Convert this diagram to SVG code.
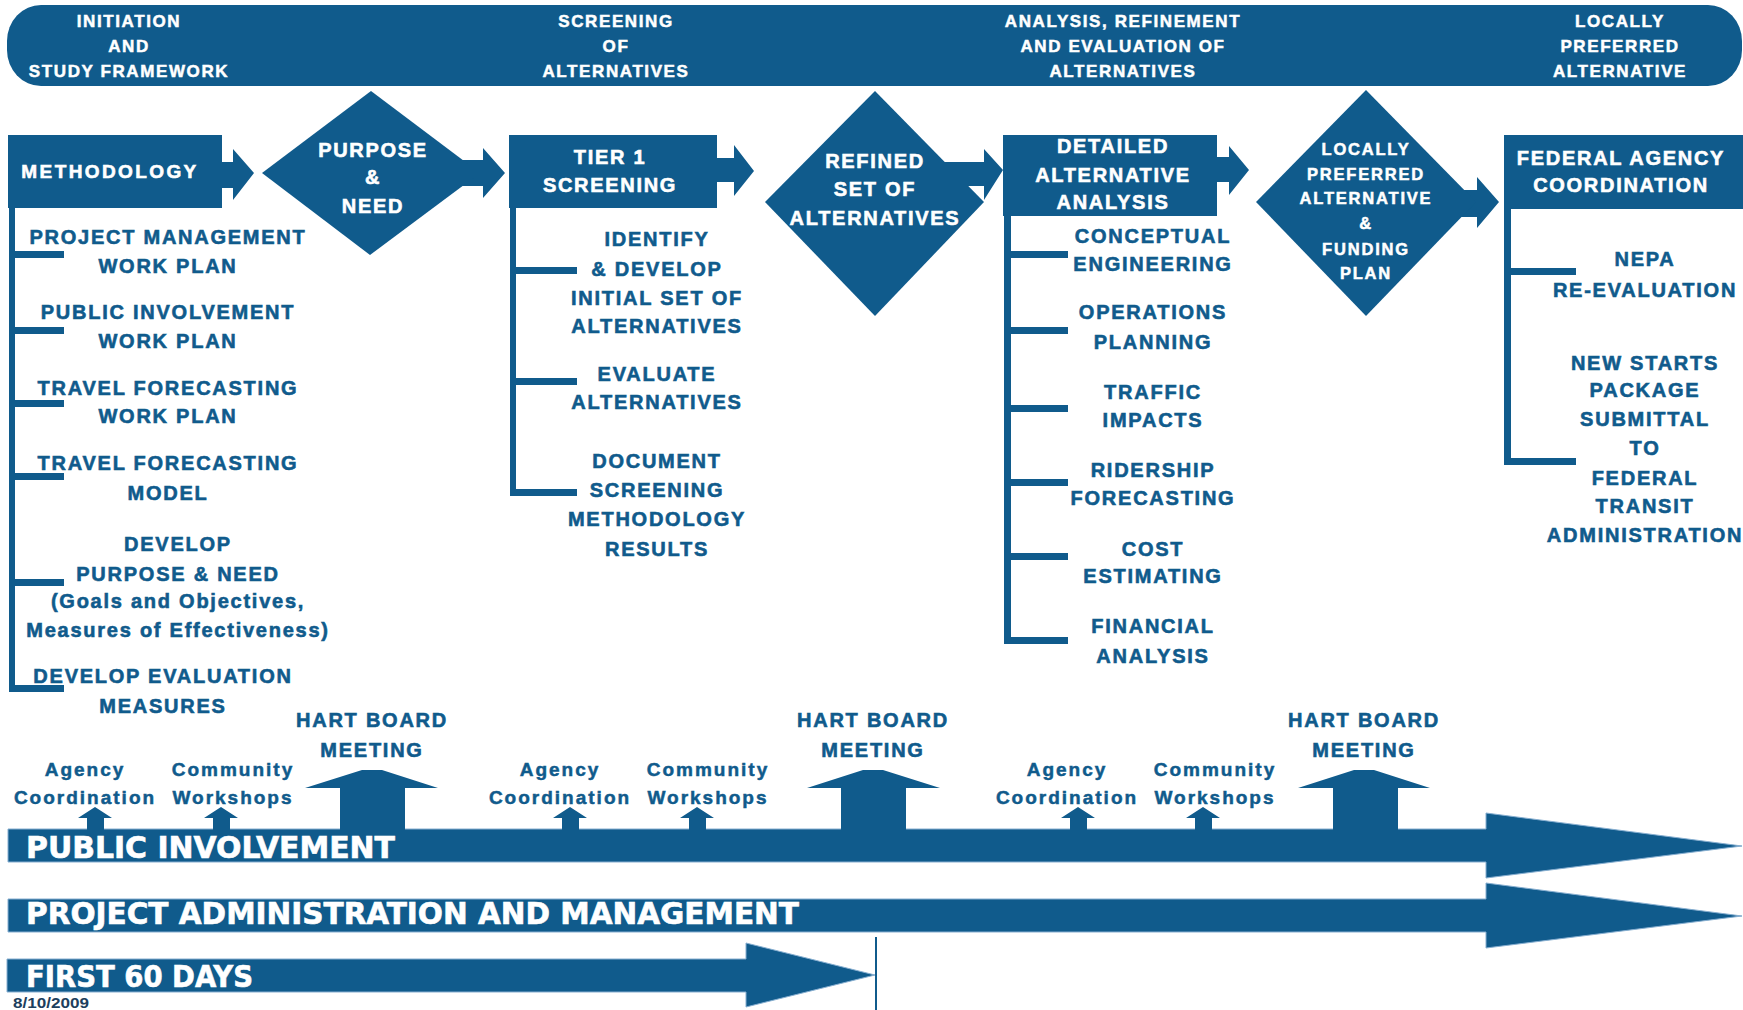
<svg xmlns="http://www.w3.org/2000/svg" width="1743" height="1010" viewBox="0 0 1743 1010">
<style>
 .f{fill:#105b8c}
 text{font-family:"Liberation Sans",Arial,sans-serif;font-weight:bold;text-anchor:middle}
 .hd{fill:#fff;stroke:#fff;stroke-width:0.5px;font-size:17px;letter-spacing:1.6px}
 .w{fill:#fff;stroke:#fff;stroke-width:0.6px;font-size:20px;letter-spacing:1.7px}
 .ws{fill:#fff;stroke:#fff;stroke-width:0.5px;font-size:16.5px;letter-spacing:1.8px}
 .b{fill:#105b8c;stroke:#105b8c;stroke-width:0.6px;font-size:20px;letter-spacing:1.75px}
 .m{fill:#105b8c;stroke:#105b8c;stroke-width:0.5px;font-size:19px;letter-spacing:2px}
 .bar{fill:#fff;stroke:#fff;stroke-width:0.6px;font-family:"Liberation Sans Narrow","DejaVu Sans Condensed","Liberation Sans",sans-serif;font-size:31px;text-anchor:start}
 .date{fill:#1d3f5e;font-size:14px;text-anchor:start}
 .bars{fill:#105b8c;stroke:#86aed0;stroke-width:1}
</style>
<rect width="1743" height="1010" fill="#fff"/>

<g id="phase-banner">
 <rect class="f" x="7" y="5" width="1735" height="81" rx="34" ry="36"/>
 <text class="hd" x="129" y="27">INITIATION</text>
 <text class="hd" x="129" y="52">AND</text>
 <text class="hd" x="129" y="77">STUDY FRAMEWORK</text>
 <text class="hd" x="616" y="27">SCREENING</text>
 <text class="hd" x="616" y="52">OF</text>
 <text class="hd" x="616" y="77">ALTERNATIVES</text>
 <text class="hd" x="1123" y="27">ANALYSIS, REFINEMENT</text>
 <text class="hd" x="1123" y="52">AND EVALUATION OF</text>
 <text class="hd" x="1123" y="77">ALTERNATIVES</text>
 <text class="hd" x="1620" y="27">LOCALLY</text>
 <text class="hd" x="1620" y="52">PREFERRED</text>
 <text class="hd" x="1620" y="77">ALTERNATIVE</text>
</g>

<g id="connectors" class="f">
 <path d="M221,162 H233 V149 L254,173 L233,200 V188 H221 Z"/>
 <path d="M455,160 H483 V148 L505,173 L483,198 V186 H455 Z"/>
 <path d="M716,158 H734 V145 L754,171 L734,196 V182 H716 Z"/>
 <path d="M930,162 H984 V149 L1003,170 L984,200 V186 H930 Z"/>
 <path d="M1215,157 H1229 V146 L1249,170 L1229,195 V182 H1215 Z"/>
 <path d="M1450,190 H1477 V177 L1499,202 L1477,228 V217 H1450 Z"/>
 <rect x="9" y="207" width="6" height="485"/>
 <rect x="9" y="251" width="55" height="7"/>
 <rect x="9" y="327" width="55" height="7"/>
 <rect x="9" y="400" width="55" height="7"/>
 <rect x="9" y="473" width="55" height="7"/>
 <rect x="9" y="579" width="55" height="7"/>
 <rect x="9" y="685" width="55" height="7"/>
 <rect x="510" y="207" width="6" height="289"/>
 <rect x="510" y="267" width="67" height="7"/>
 <rect x="510" y="378" width="67" height="7"/>
 <rect x="510" y="489" width="67" height="7"/>
 <rect x="1004" y="215" width="7" height="429"/>
 <rect x="1004" y="251" width="64" height="7"/>
 <rect x="1004" y="327" width="64" height="7"/>
 <rect x="1004" y="405" width="64" height="7"/>
 <rect x="1004" y="479" width="64" height="7"/>
 <rect x="1004" y="553" width="64" height="7"/>
 <rect x="1004" y="637" width="64" height="7"/>
 <rect x="1504" y="208" width="7" height="257"/>
 <rect x="1504" y="268" width="72" height="7"/>
 <rect x="1504" y="458" width="72" height="7"/>
</g>

<g id="methodology">
 <rect class="f" x="8" y="135" width="214" height="73"/>
 <text class="w" x="110" y="178" style="font-size:19px;letter-spacing:2.4px">METHODOLOGY</text>
</g>
<g id="methodology-items">
 <text class="b" x="168" y="244">PROJECT MANAGEMENT</text>
 <text class="b" x="168" y="273">WORK PLAN</text>
 <text class="b" x="168" y="319">PUBLIC INVOLVEMENT</text>
 <text class="b" x="168" y="348">WORK PLAN</text>
 <text class="b" x="168" y="395">TRAVEL FORECASTING</text>
 <text class="b" x="168" y="423">WORK PLAN</text>
 <text class="b" x="168" y="470">TRAVEL FORECASTING</text>
 <text class="b" x="168" y="500">MODEL</text>
 <text class="b" x="178" y="551">DEVELOP</text>
 <text class="b" x="178" y="581">PURPOSE &amp; NEED</text>
 <text class="b" x="178" y="608">(Goals and Objectives,</text>
 <text class="b" x="178" y="637">Measures of Effectiveness)</text>
 <text class="b" x="163" y="683">DEVELOP EVALUATION</text>
 <text class="b" x="163" y="713">MEASURES</text>
</g>

<g id="purpose-need">
 <polygon class="f" points="371,91 480,173 370,255 262,173"/>
 <text class="w" x="373" y="157">PURPOSE</text>
 <text class="w" x="373" y="184">&amp;</text>
 <text class="w" x="373" y="213">NEED</text>
</g>

<g id="tier1-screening">
 <rect class="f" x="509" y="135" width="208" height="73"/>
 <text class="w" x="610" y="164">TIER 1</text>
 <text class="w" x="610" y="192">SCREENING</text>
</g>
<g id="tier1-items">
 <text class="b" x="657" y="246">IDENTIFY</text>
 <text class="b" x="657" y="276">&amp; DEVELOP</text>
 <text class="b" x="657" y="305">INITIAL SET OF</text>
 <text class="b" x="657" y="333">ALTERNATIVES</text>
 <text class="b" x="657" y="381">EVALUATE</text>
 <text class="b" x="657" y="409">ALTERNATIVES</text>
 <text class="b" x="657" y="468">DOCUMENT</text>
 <text class="b" x="657" y="497">SCREENING</text>
 <text class="b" x="657" y="526">METHODOLOGY</text>
 <text class="b" x="657" y="556">RESULTS</text>
</g>

<g id="refined-set">
 <polygon class="f" points="875,91 984,202 875,316 765,202"/>
 <text class="w" x="875" y="168">REFINED</text>
 <text class="w" x="875" y="196">SET OF</text>
 <text class="w" x="875" y="225">ALTERNATIVES</text>
</g>

<g id="detailed-analysis">
 <rect class="f" x="1003" y="135" width="214" height="81"/>
 <text class="w" x="1113" y="153">DETAILED</text>
 <text class="w" x="1113" y="182">ALTERNATIVE</text>
 <text class="w" x="1113" y="209">ANALYSIS</text>
</g>
<g id="detailed-items">
 <text class="b" x="1153" y="243">CONCEPTUAL</text>
 <text class="b" x="1153" y="271">ENGINEERING</text>
 <text class="b" x="1153" y="319">OPERATIONS</text>
 <text class="b" x="1153" y="349">PLANNING</text>
 <text class="b" x="1153" y="399">TRAFFIC</text>
 <text class="b" x="1153" y="427">IMPACTS</text>
 <text class="b" x="1153" y="477">RIDERSHIP</text>
 <text class="b" x="1153" y="505">FORECASTING</text>
 <text class="b" x="1153" y="556">COST</text>
 <text class="b" x="1153" y="583">ESTIMATING</text>
 <text class="b" x="1153" y="633">FINANCIAL</text>
 <text class="b" x="1153" y="663">ANALYSIS</text>
</g>

<g id="lpa-funding">
 <polygon class="f" points="1366,90 1476,202 1366,316 1256,202"/>
 <text class="ws" x="1366" y="155">LOCALLY</text>
 <text class="ws" x="1366" y="180">PREFERRED</text>
 <text class="ws" x="1366" y="204">ALTERNATIVE</text>
 <text class="ws" x="1366" y="229">&amp;</text>
 <text class="ws" x="1366" y="255">FUNDING</text>
 <text class="ws" x="1366" y="279">PLAN</text>
</g>

<g id="federal-coordination">
 <rect class="f" x="1504" y="135" width="239" height="74"/>
 <text class="w" x="1621" y="165">FEDERAL AGENCY</text>
 <text class="w" x="1621" y="192">COORDINATION</text>
</g>
<g id="federal-items">
 <text class="b" x="1645" y="266">NEPA</text>
 <text class="b" x="1645" y="297">RE-EVALUATION</text>
 <text class="b" x="1645" y="370">NEW STARTS</text>
 <text class="b" x="1645" y="397">PACKAGE</text>
 <text class="b" x="1645" y="426">SUBMITTAL</text>
 <text class="b" x="1645" y="455">TO</text>
 <text class="b" x="1645" y="485">FEDERAL</text>
 <text class="b" x="1645" y="513">TRANSIT</text>
 <text class="b" x="1645" y="542">ADMINISTRATION</text>
</g>

<g id="public-involvement">
 <path class="bars" d="M8,829 H1486 V813 L1742,846 L1486,878 V862 H8 Z"/>
 <text class="bar" x="26" y="858" textLength="369" lengthAdjust="spacingAndGlyphs">PUBLIC INVOLVEMENT</text>
</g>
<g id="project-administration">
 <path class="bars" d="M8,899 H1486 V883 L1742,916 L1486,948 V932 H8 Z"/>
 <text class="bar" x="26" y="924" textLength="773" lengthAdjust="spacingAndGlyphs">PROJECT ADMINISTRATION AND MANAGEMENT</text>
</g>
<g id="first-60-days">
 <path class="bars" d="M7,959 H746 V943 L875,975 L746,1007 V992 H7 Z"/>
 <rect class="f" x="875" y="937" width="2" height="73"/>
 <text class="bar" x="26" y="987" textLength="227" lengthAdjust="spacingAndGlyphs">FIRST 60 DAYS</text>
</g>

<g id="events" class="f">
 <path d="M87,831 V818 H78 L95,807 L112,818 H104 V831 Z"/>
 <path d="M213,831 V818 H204 L221,807 L238,818 H230 V831 Z"/>
 <path d="M340,831 V788 H305 L362,770 H382 L438,788 H405 V831 Z"/>
 <path d="M562,831 V818 H553 L570,807 L587,818 H579 V831 Z"/>
 <path d="M689,831 V818 H680 L697,807 L714,818 H706 V831 Z"/>
 <path d="M841,831 V788 H807 L863,770 H883 L940,788 H906 V831 Z"/>
 <path d="M1070,831 V818 H1061 L1078,807 L1095,818 H1087 V831 Z"/>
 <path d="M1195,831 V818 H1186 L1203,807 L1220,818 H1212 V831 Z"/>
 <path d="M1333,831 V788 H1298 L1354,770 H1374 L1430,788 H1398 V831 Z"/>
</g>
<g id="event-labels">
 <text class="m" x="85" y="776">Agency</text>
 <text class="m" x="85" y="804">Coordination</text>
 <text class="m" x="233" y="776">Community</text>
 <text class="m" x="233" y="804">Workshops</text>
 <text class="b" x="372" y="727">HART BOARD</text>
 <text class="b" x="372" y="757">MEETING</text>
 <text class="m" x="560" y="776">Agency</text>
 <text class="m" x="560" y="804">Coordination</text>
 <text class="m" x="708" y="776">Community</text>
 <text class="m" x="708" y="804">Workshops</text>
 <text class="b" x="873" y="727">HART BOARD</text>
 <text class="b" x="873" y="757">MEETING</text>
 <text class="m" x="1067" y="776">Agency</text>
 <text class="m" x="1067" y="804">Coordination</text>
 <text class="m" x="1215" y="776">Community</text>
 <text class="m" x="1215" y="804">Workshops</text>
 <text class="b" x="1364" y="727">HART BOARD</text>
 <text class="b" x="1364" y="757">MEETING</text>
</g>

<text class="date" x="13" y="1008" textLength="76" lengthAdjust="spacingAndGlyphs">8/10/2009</text>
</svg>
